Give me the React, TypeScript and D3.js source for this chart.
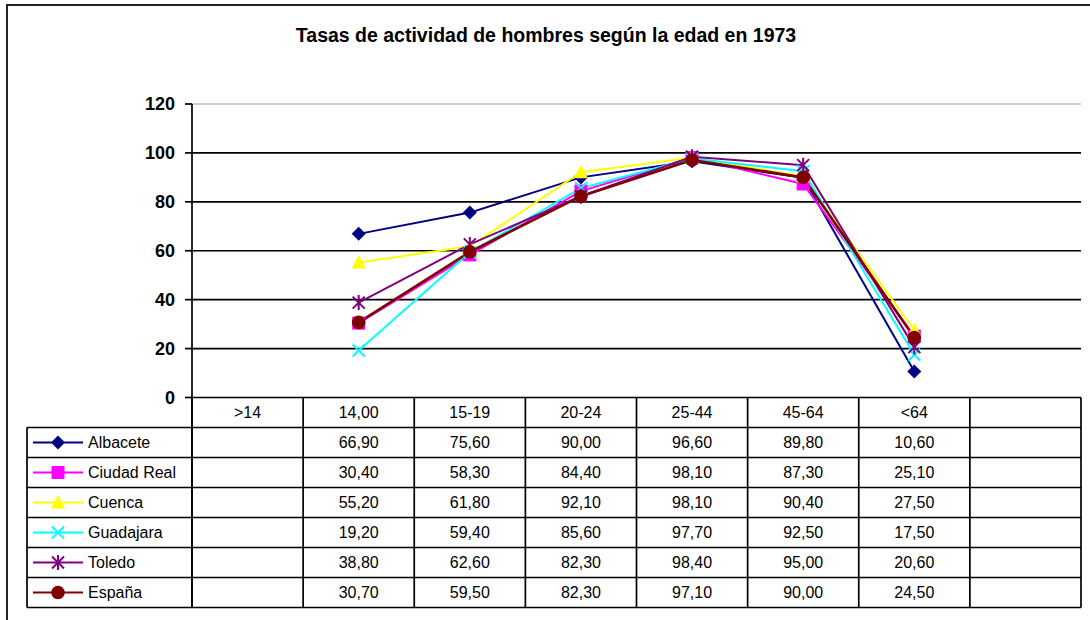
import React from "react";
import * as d3 from "d3";

const title = "Tasas de actividad de hombres según la edad en 1973";
const categories = [">14", "14,00", "15-19", "20-24", "25-44", "45-64", "<64", ""];
const yTicks = [0, 20, 40, 60, 80, 100, 120];

const seriesNames = ["Albacete", "Ciudad Real", "Cuenca", "Guadajara", "Toledo", "España"];
const albacete = [null, 66.9, 75.6, 90.0, 96.6, 89.8, 10.6, null];
const ciudadReal = [null, 30.4, 58.3, 84.4, 98.1, 87.3, 25.1, null];
const cuenca = [null, 55.2, 61.8, 92.1, 98.1, 90.4, 27.5, null];
const guadajara = [null, 19.2, 59.4, 85.6, 97.7, 92.5, 17.5, null];
const toledo = [null, 38.8, 62.6, 82.3, 98.4, 95.0, 20.6, null];
const espana = [null, 30.7, 59.5, 82.3, 97.1, 90.0, 24.5, null];

const seriesValues: (number | null)[][] = [albacete, ciudadReal, cuenca, guadajara, toledo, espana];
const colors = ["#000080", "#FF00FF", "#FFFF00", "#00FFFF", "#800080", "#800000"];
const markers = ["diamond", "square", "triangle", "x", "star", "circle"];

const FONT = "'Liberation Sans', Arial, sans-serif";

function Marker({ type, x, y, color }: { type: string; x: number; y: number; color: string }) {
  switch (type) {
    case "diamond":
      return <path d={`M${x},${y - 7}L${x + 7},${y}L${x},${y + 7}L${x - 7},${y}Z`} fill={color} />;
    case "square":
      return <rect x={x - 6.5} y={y - 6.5} width={13} height={13} fill={color} />;
    case "triangle":
      return <path d={`M${x},${y - 7.5}L${x + 7},${y + 6}L${x - 7},${y + 6}Z`} fill={color} />;
    case "x":
      return (
        <path d={`M${x - 6},${y - 6}L${x + 6},${y + 6}M${x - 6},${y + 6}L${x + 6},${y - 6}`} stroke={color} strokeWidth={2} fill="none" />
      );
    case "star":
      return (
        <path
          d={`M${x - 6},${y - 6}L${x + 6},${y + 6}M${x - 6},${y + 6}L${x + 6},${y - 6}M${x},${y - 7.5}L${x},${y + 7.5}`}
          stroke={color}
          strokeWidth={2}
          fill="none"
        />
      );
    case "circle":
      return <circle cx={x} cy={y} r={6.8} fill={color} />;
    default:
      return null;
  }
}

export default function App() {
  const W = 1090;
  const H = 620;
  const plotLeft = 192;
  const plotRight = 1081;
  const x = d3.scaleBand<string>().domain(categories.map((c, i) => String(i))).range([plotLeft, plotRight]).padding(0);
  const y = d3.scaleLinear().domain([0, 120]).range([397.5, 104]);
  const bw = x.bandwidth();
  const cx = (i: number) => (x(String(i)) as number) + bw / 2;

  const headerTop = 397.5;
  const rowH = 30;
  const headerBottom = headerTop + rowH;
  const tableBottom = headerBottom + rowH * seriesNames.length;
  const legendLeft = 27;

  const line = d3
    .line<[number, number | null]>()
    .defined((d) => d[1] !== null)
    .x((d) => cx(d[0]))
    .y((d) => y(d[1] as number));

  const fmt = (v: number | null) => (v === null ? "" : v.toFixed(2).replace(".", ","));

  return (
    <div style={{ position: "absolute", left: 0, top: 0 }}>
      <svg width={W} height={H} style={{ display: "block", background: "#fff" }} fontFamily={FONT}>
        <rect x={0} y={0} width={W} height={H} fill="#fff" />
        <rect x={7} y={5} width={1100} height={640} fill="none" stroke="#222" strokeWidth={2} />
        <text x={546} y={42} textAnchor="middle" fontSize={19.5} fontWeight="bold" fill="#000">
          {title}
        </text>

        {/* gridlines */}
        {yTicks.map((t) => (
          <line
            key={"g" + t}
            x1={plotLeft}
            x2={plotRight}
            y1={y(t)}
            y2={y(t)}
            stroke={t === 120 ? "#bbb" : "#000"}
            strokeWidth={t === 120 ? 1.6 : 1.7}
          />
        ))}
        {/* y axis */}
        <line x1={plotLeft} x2={plotLeft} y1={y(120)} y2={tableBottom} stroke="#000" strokeWidth={1.7} />
        {yTicks.map((t) => (
          <g key={"t" + t}>
            <line x1={185} x2={plotLeft} y1={y(t)} y2={y(t)} stroke="#000" strokeWidth={1.7} />
            <text x={175} y={y(t)} dy="0.36em" textAnchor="end" fontSize={18} fontWeight="bold" fill="#000">
              {t}
            </text>
          </g>
        ))}

        {/* series lines */}
        {seriesValues.map((vals, si) => (
          <path
            key={"l" + si}
            d={line(vals.map((v, i) => [i, v] as [number, number | null])) || ""}
            fill="none"
            stroke={colors[si]}
            strokeWidth={si === 5 ? 2.6 : 2}
          />
        ))}
        {seriesValues.map((vals, si) =>
          vals.map((v, i) =>
            v === null ? null : <Marker key={`m${si}-${i}`} type={markers[si]} x={cx(i)} y={y(v)} color={colors[si]} />
          )
        )}

        {/* table */}
        {categories.map((c, i) => (
          <text key={"h" + i} x={cx(i)} y={(headerTop + headerBottom) / 2} dy="0.36em" textAnchor="middle" fontSize={16} fill="#000">
            {c}
          </text>
        ))}
        {d3.range(categories.length + 1).map((k) => (
          <line
            key={"v" + k}
            x1={plotLeft + k * bw}
            x2={plotLeft + k * bw}
            y1={headerTop}
            y2={tableBottom}
            stroke="#000"
            strokeWidth={1.7}
          />
        ))}
        <line x1={legendLeft} x2={legendLeft} y1={headerBottom} y2={tableBottom} stroke="#000" strokeWidth={1.7} />
        {d3.range(seriesNames.length + 1).map((r) => (
          <line
            key={"hr" + r}
            x1={legendLeft}
            x2={plotRight}
            y1={headerBottom + r * rowH}
            y2={headerBottom + r * rowH}
            stroke="#000"
            strokeWidth={1.7}
          />
        ))}
        {seriesNames.map((name, si) => {
          const cy = headerBottom + si * rowH + rowH / 2;
          return (
            <g key={"row" + si}>
              <line x1={33} x2={83} y1={cy} y2={cy} stroke={colors[si]} strokeWidth={si === 5 ? 2.2 : 1.8} />
              <Marker type={markers[si]} x={58} y={cy} color={colors[si]} />
              <text x={88} y={cy} dy="0.36em" fontSize={16} fill="#000">
                {name}
              </text>
              {seriesValues[si].map((v, i) => (
                <text key={"c" + i} x={cx(i)} y={cy} dy="0.36em" textAnchor="middle" fontSize={16} fill="#000">
                  {fmt(v)}
                </text>
              ))}
            </g>
          );
        })}
      </svg>
    </div>
  );
}
